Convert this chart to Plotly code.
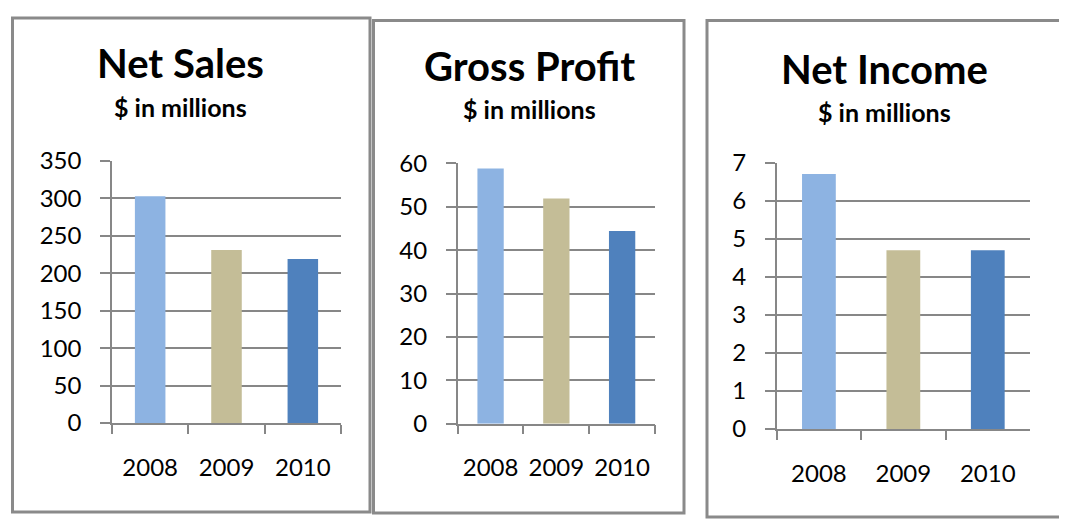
import plotly.graph_objects as go

# page body has an 8px margin, so the figure is sized to fit what is left of the window
OFF = 8
W, H = 1067 - OFF, 521 - OFF

# --- data
years = ['2008', '2009', '2010']
net_sales = [303, 231, 219]
gross_profit = [58.8, 51.9, 44.4]
net_income = [6.7, 4.7, 4.7]
bar_colors = ['#8DB3E2', '#C4BD97', '#4F81BD']

titles = ['Net Sales', 'Gross Profit', 'Net Income']
subtitle = '$ in millions'
y_max = [350, 60, 7]
y_step = [50, 10, 1]

GRID = '#878787'
FONT = 'Lato'


def px_x(v):
    return (v - OFF) / W


def px_y(v):
    return 1 - (v - OFF) / H


# plot areas in window pixels: (x0, x1, ytop, ybottom)
areas = [(112, 341, 161, 423), (457.7, 655, 163.3, 423.7), (776.7, 1030, 162.7, 429)]
# panel frames in window pixels: (x0, y0, x1, y1)
frames = [(12.5, 18, 370, 512), (373.5, 20.5, 684, 513), (707, 20.5, 1060.5, 517)]
# title centres: (x, title_y, subtitle_y)
title_pos = [(180, 63, 107), (529, 66, 109), (884, 69, 112)]

fig = go.Figure()
for i, vals in enumerate([net_sales, gross_profit, net_income]):
    sfx = '' if i == 0 else str(i + 1)
    fig.add_trace(go.Bar(x=years, y=vals, marker_color=bar_colors, marker_line_width=0,
                         xaxis='x' + sfx, yaxis='y' + sfx, showlegend=False))
    x0, x1, yt, yb = areas[i]
    fig.update_layout({
        'xaxis' + sfx: dict(domain=[px_x(x0), px_x(x1)], anchor='y' + sfx, type='category',
                            range=[-0.5, 2.5], showline=True, linecolor=GRID, linewidth=1.5,
                            ticks='outside', tickson='boundaries', ticklen=9, tickcolor=GRID,
                            tickwidth=1.5, showgrid=False, ticklabelstandoff=22,
                            automargin=False,
                            tickfont=dict(size=24, color='black', family=FONT)),
        'yaxis' + sfx: dict(domain=[px_y(yb), px_y(yt)], anchor='x' + sfx, range=[0, y_max[i]],
                            dtick=y_step[i], showline=True, linecolor=GRID, linewidth=1.5,
                            showgrid=True, gridcolor=GRID, gridwidth=1.5, zeroline=False,
                            ticks='outside', ticklen=10, tickcolor=GRID, tickwidth=1.5,
                            ticklabelstandoff=14, automargin=False,
                            tickfont=dict(size=24, color='black', family=FONT)),
    })
    fx0, fy0, fx1, fy1 = frames[i]
    fig.add_shape(type='rect', xref='paper', yref='paper',
                  x0=px_x(fx0), x1=px_x(fx1), y0=px_y(fy1), y1=px_y(fy0),
                  line=dict(color='#8A8A8A', width=3), layer='below')
    tx, ty, sy = title_pos[i]
    fig.add_annotation(x=px_x(tx), y=px_y(ty), xref='paper', yref='paper', showarrow=False,
                       text='<b>' + titles[i] + '</b>', xanchor='center', yanchor='middle',
                       font=dict(size=40, color='black', family=FONT))
    fig.add_annotation(x=px_x(tx), y=px_y(sy), xref='paper', yref='paper', showarrow=False,
                       text='<b>' + subtitle + '</b>', xanchor='center', yanchor='middle',
                       font=dict(size=25, color='black', family=FONT))

fig.update_layout(width=W, height=H, margin=dict(l=0, r=0, t=0, b=0),
                  paper_bgcolor='white', plot_bgcolor='white', bargap=0.6,
                  font=dict(family=FONT))

fig.write_html('out.html')
